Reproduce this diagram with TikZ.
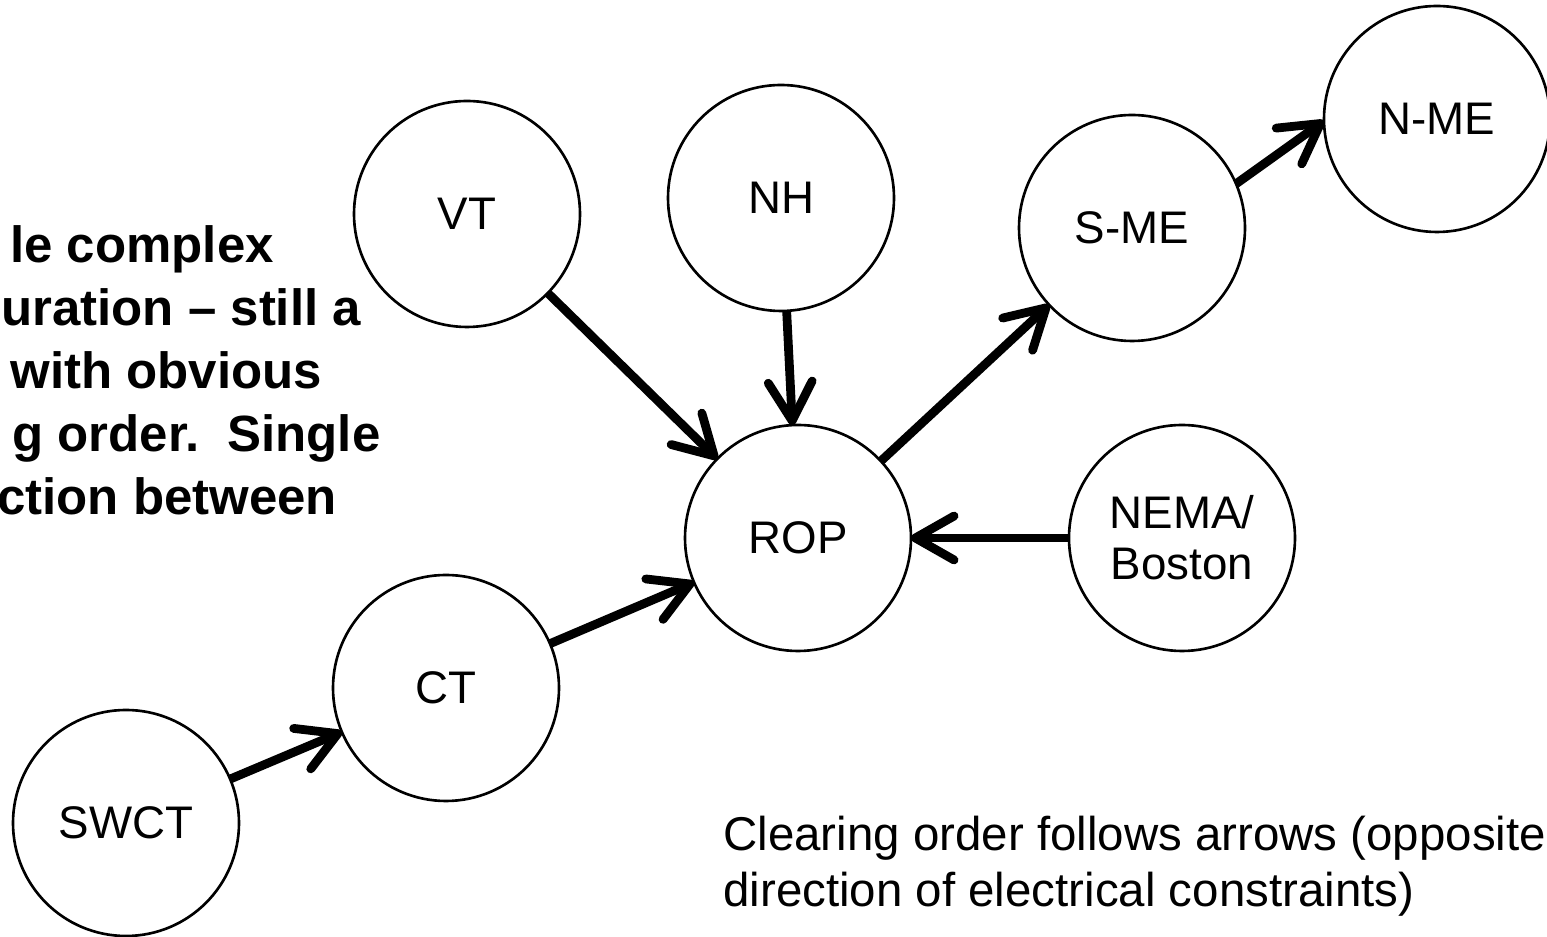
\documentclass[tikz,border=0pt]{standalone}
\usepackage{fontspec}
\setmainfont{Liberation Sans}
\usepackage{tikz}
\usepackage{tkz-graph}
\usetikzlibrary{positioning,arrows.meta}

\begin{document}
\begin{tikzpicture}
          \clip (0,0) rectangle (30.94,18.74);
          \tikzset{VertexStyle/.style = {shape=circle, draw, line width=1.5pt,
                   minimum size=4.52cm, inner sep=0pt, align=center,
                   font=\fontsize{26}{29}\selectfont}}
          \tikzset{EdgeStyle/.style = {draw, line width=5pt,
                   -{Straight Barb[length=22pt,width=25pt,round]}}}

          \Vertex[x=9.34,y=14.46,L=VT]{VT}
          \Vertex[x=15.62,y=14.78,L=NH]{NH}
          \Vertex[x=22.64,y=14.18,L=S-ME]{SME}
          \Vertex[x=28.74,y=16.36,L=N-ME]{NME}
          \Vertex[x=15.96,y=7.98,L=ROP]{ROP}
          \Vertex[x=23.64,y=7.98,L={NEMA/\\Boston}]{NEMA}
          \Vertex[x=8.92,y=4.98,L=CT]{CT}
          \Vertex[x=2.52,y=2.28,L=SWCT]{SWCT}

          \Edge(VT)(ROP)
          \Edge(NH)(ROP)
          \Edge(ROP)(SME)
          \Edge(SME.23)(NME.181)
          \Edge(NEMA.west)(ROP.east)
          \Edge(CT)(ROP)
          \Edge(SWCT)(CT)

          % text cut by the slide edge
          \tikzset{notebold/.style = {anchor=base west, inner sep=0pt,
                   font=\bfseries\fontsize{29}{36}\selectfont}}
          \node[notebold] (line1) at (0.20,13.48) {le complex};
          \node[notebold] (line2) at (0.02,12.22) {uration -- still a};
          \node[notebold] (line3) at (0.20,10.96) {with obvious};
          \node[notebold] (line4) at (0.24,9.70) {g order.\ \ Single};
          \node[notebold] (line5) at (-0.06,8.44) {ction between};

          \node[anchor=base west, inner sep=0pt, align=left,
                font=\fontsize{27}{32.4}\selectfont] (order) at (14.46,0.60)
                {Clearing order follows arrows (opposite\\direction of electrical constraints)};
        \end{tikzpicture}
\end{document}
